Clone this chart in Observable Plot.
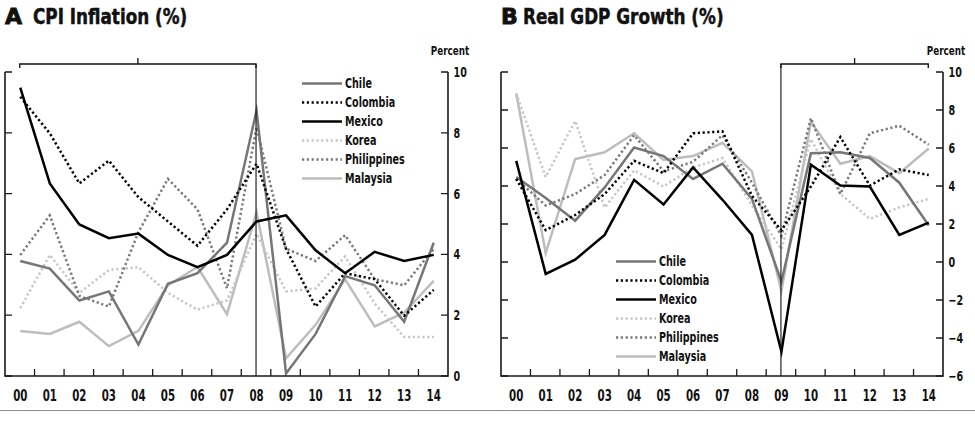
<!DOCTYPE html>
<html>
<head>
<meta charset="utf-8">
<script src="https://cdn.jsdelivr.net/npm/d3@7"></script>
<script src="https://cdn.jsdelivr.net/npm/@observablehq/plot@0.6"></script>
<style>
  html, body { margin: 0; padding: 0; background: #fff; }
  #wrap { position: relative; width: 975px; height: 421px; overflow: hidden; background: #fff;
          font-family: "Liberation Sans Narrow", "Arial Narrow", "DejaVu Sans Condensed", sans-serif; color: #111; }
  .title { position: absolute; top: 6px; font-size: 22px; line-height: 22px; font-weight: bold; white-space: nowrap;
           -webkit-text-stroke: 0.5px #111; }
  .title .letter { font-family: "DejaVu Sans", sans-serif; font-weight: bold; -webkit-text-stroke: 0.9px #111; }
  .cond { display: inline-block; transform: scaleX(0.85); transform-origin: 0 50%; }
  .unit { position: absolute; top: 44px; font-size: 12.5px; line-height: 14px; font-weight: bold; text-align: right; }
  .unit span { display: inline-block; transform: scaleX(0.78); transform-origin: 100% 50%; }
  .panel { position: absolute; top: 40px; }
  .leg { position: absolute; height: 19px; line-height: 19px; white-space: nowrap; font-size: 13.5px; font-weight: bold; }
  .leg svg { vertical-align: top; }
  .leg span { display: inline-block; transform: scaleX(0.79); transform-origin: 0 50%; margin-left: 3px; }
  #rule { position: absolute; left: 0; top: 410px; width: 975px; height: 1px; background: #8c8c8c; }
</style>
</head>
<body>
<div id="wrap">
  <div class="title" style="left:5px"><span class="letter">A</span><span class="cond" style="margin-left:11px">CPI Inflation (%)</span></div>
  <div class="title" style="left:501px"><span class="letter">B</span><span class="cond" style="margin-left:5px">Real GDP Growth (%)</span></div>
  <div class="unit" style="left:400px;width:69px"><span>Percent</span></div>
  <div class="unit" style="left:896px;width:69px"><span>Percent</span></div>
  <div id="panelA" class="panel" style="left:0px"></div>
  <div id="panelB" class="panel" style="left:487px"></div>
  <div id="rule"></div>
</div>
<script>
const FONT = '"Liberation Sans Narrow", "Arial Narrow", "DejaVu Sans Condensed", sans-serif';

// ---- Data ----
const years = ["00","01","02","03","04","05","06","07","08","09","10","11","12","13","14"];
const countries = ["Chile","Colombia","Mexico","Korea","Philippines","Malaysia"];

const yTicksA = [0, 2, 4, 6, 8, 10];
const yTicksB = [-6, -4, -2, 0, 2, 4, 6, 8, 10];
const periodA = ["00", "08"];   // bracket span, panel A
const eventA = "08";
const periodB = ["09", "14"];   // bracket span, panel B
const eventB = "09";

// CPI inflation (%)
const chileCPI       = [3.8, 3.55, 2.5, 2.8, 1.05, 3.05, 3.4, 4.4, 8.75, 0.1, 1.4, 3.3, 3.0, 1.8, 4.4];
const colombiaCPI    = [9.2, 8.0, 6.35, 7.1, 5.9, 5.1, 4.3, 5.5, 7.0, 4.2, 2.3, 3.4, 3.2, 2.0, 2.85];
const mexicoCPI      = [9.5, 6.35, 5.0, 4.55, 4.7, 4.0, 3.6, 4.0, 5.1, 5.3, 4.15, 3.4, 4.1, 3.8, 4.0];
const koreaCPI       = [2.25, 4.0, 2.75, 3.5, 3.6, 2.75, 2.2, 2.5, 4.7, 2.8, 2.9, 3.95, 2.4, 1.3, 1.3];
const philippinesCPI = [4.0, 5.3, 2.65, 2.3, 4.75, 6.5, 5.5, 2.9, 8.2, 4.2, 3.8, 4.65, 3.2, 3.0, 4.2];
const malaysiaCPI    = [1.5, 1.4, 1.8, 1.0, 1.5, 3.0, 3.6, 2.05, 5.4, 0.6, 1.7, 3.2, 1.65, 2.1, 3.15];

// Real GDP growth (%)
const chileGDP       = [4.5, 3.4, 2.2, 3.95, 6.05, 5.6, 4.4, 5.2, 3.35, -1.0, 5.75, 5.8, 5.5, 4.2, 1.95];
const colombiaGDP    = [4.4, 1.7, 2.5, 3.6, 5.35, 4.7, 6.8, 6.9, 3.5, 1.7, 4.0, 6.6, 4.05, 4.9, 4.6];
const mexicoGDP      = [5.35, -0.6, 0.15, 1.45, 4.35, 3.05, 5.0, 3.3, 1.45, -4.7, 5.15, 4.05, 4.0, 1.45, 2.1];
const koreaGDP       = [8.9, 4.5, 7.45, 2.9, 4.85, 4.0, 5.0, 5.5, 3.0, 0.7, 6.5, 3.6, 2.3, 2.9, 3.35];
const philippinesGDP = [4.4, 3.0, 3.6, 4.6, 6.7, 4.8, 5.3, 6.7, 4.2, 1.4, 7.6, 3.6, 6.8, 7.2, 6.2];
const malaysiaGDP    = [8.9, 0.5, 5.45, 5.8, 6.8, 5.4, 5.6, 6.3, 4.8, -1.5, 7.4, 5.2, 5.6, 4.7, 6.0];

const cpiSeries = {Chile: chileCPI, Colombia: colombiaCPI, Mexico: mexicoCPI, Korea: koreaCPI, Philippines: philippinesCPI, Malaysia: malaysiaCPI};
const gdpSeries = {Chile: chileGDP, Colombia: colombiaGDP, Mexico: mexicoGDP, Korea: koreaGDP, Philippines: philippinesGDP, Malaysia: malaysiaGDP};

// ---- Styles ----
const DOTS = "2.2,2.6";
const seriesStyle = {
  Chile:       {stroke: "#767676", dash: null},
  Colombia:    {stroke: "#000000", dash: DOTS},
  Mexico:      {stroke: "#000000", dash: null},
  Korea:       {stroke: "#c6c6c6", dash: DOTS},
  Philippines: {stroke: "#787878", dash: DOTS},
  Malaysia:    {stroke: "#bdbdbd", dash: null}
};
const drawOrder = ["Malaysia", "Korea", "Philippines", "Chile", "Colombia", "Mexico"];

function toRows(series) {
  const rows = [];
  for (const c of countries) series[c].forEach((v, i) => rows.push({country: c, i, year: years[i], v}));
  return rows;
}

function lineMarks(rows) {
  return drawOrder.map(c => {
    const s = seriesStyle[c];
    return Plot.line(rows.filter(r => r.country === c), {
      x: "i", y: "v", stroke: s.stroke, strokeWidth: 2.5,
      strokeDasharray: s.dash || undefined,
      strokeLinecap: "butt", strokeLinejoin: "miter", strokeMiterlimit: 10
    });
  });
}

// Frame: open axes with inward ticks, bracket and event line
function frameMark(yTicks, period, eventYear) {
  return (index, scales, values, dims) => {
    const x = scales.x, y = scales.y;
    const L = dims.marginLeft, R = dims.width - dims.marginRight;
    const B = dims.height - dims.marginBottom;
    const yTop = y(yTicks[yTicks.length - 1]);
    const g = d3.create("svg:g").attr("fill", "none");
    g.append("path").attr("stroke", "#1a1a1a").attr("stroke-width", 1.6)
      .attr("d", `M${L},${yTop}V${B}H${R}V${yTop}`);
    let d = "";
    for (const t of yTicks) d += `M${L},${y(t)}h7M${R},${y(t)}h-7`;
    for (let i = 0; i < years.length - 1; i++) d += `M${x(i + 0.5)},${B}v-7`;
    g.append("path").attr("stroke", "#1a1a1a").attr("stroke-width", 1.3).attr("d", d);
    const by = yTop - 8;
    const x0 = x(years.indexOf(period[0])), x1 = x(years.indexOf(period[1]));
    const xm = (x0 + x1) / 2;
    g.append("path").attr("stroke", "#111").attr("stroke-width", 1.3)
      .attr("d", `M${x0},${by + 4}V${by}H${x1}V${by + 4}M${xm},${by}v-6`);
    const xe = x(years.indexOf(eventYear));
    g.append("path").attr("stroke", "#111").attr("stroke-width", 1.1)
      .attr("d", `M${xe},${by}V${B}`);
    return g.node();
  };
}

// narrow the fallback condensed font horizontally around each label's anchor
function condense(svg, k) {
  svg.querySelectorAll("text").forEach(t => {
    const tr = t.getAttribute("transform") || "";
    t.setAttribute("transform", `${tr} scale(${k},1)`);
  });
  return svg;
}

function panel({series, yDomain, yTicks, period, eventYear, width, marginLeft, marginRight}) {
  const rows = toRows(series);
  const svg = Plot.plot({
    width, height: 370,
    marginTop: 32, marginBottom: 34, marginLeft, marginRight,
    x: {domain: [-0.5, years.length - 0.5]},
    y: {domain: yDomain},
    style: {fontFamily: FONT, background: "transparent", overflow: "visible", color: "#111"},
    marks: [
      ...lineMarks(rows),
      frameMark(yTicks, period, eventYear),
      Plot.axisX(d3.range(years.length), {
        label: null, tickSize: 0, tickPadding: 14, tickFormat: i => years[i],
        fontSize: 15, fontWeight: "bold", fill: "#111"
      }),
      Plot.axisY(yTicks, {
        label: null, anchor: "right", tickSize: 0, tickPadding: 5,
        fontSize: 14, fontWeight: "bold", fill: "#111"
      })
    ]
  });
  return condense(svg, 0.76);
}

document.getElementById("panelA").append(panel({
  series: cpiSeries, yDomain: [0, 10], yTicks: yTicksA, period: periodA, eventYear: eventA,
  width: 487, marginLeft: 5, marginRight: 39
}));
document.getElementById("panelB").append(panel({
  series: gdpSeries, yDomain: [-6, 10], yTicks: yTicksB, period: periodB, eventYear: eventB,
  width: 488, marginLeft: 14, marginRight: 32
}));

// Legends
function legend(left, top) {
  const wrap = document.getElementById("wrap");
  countries.forEach((c, k) => {
    const s = seriesStyle[c];
    const row = document.createElement("div");
    row.className = "leg";
    row.style.left = left + "px";
    row.style.top = (top + k * 19) + "px";
    row.innerHTML =
      `<svg width="40" height="19"><line x1="0" x2="40" y1="9.5" y2="9.5" stroke="${s.stroke}" stroke-width="2.6"` +
      (s.dash ? ` stroke-dasharray="${s.dash}"` : "") + `/></svg><span>${c}</span>`;
    wrap.append(row);
  });
}
legend(302, 73.5);
legend(616, 251.5);
</script>
</body>
</html>
